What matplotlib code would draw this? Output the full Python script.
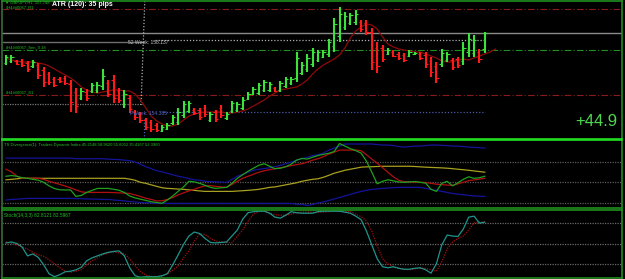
import numpy as np
import matplotlib
matplotlib.use("Agg")
import matplotlib.pyplot as plt

plt.rcParams['font.family'] = ['Liberation Sans', 'DejaVu Sans']

# ---- GBPJPY H1 bars ----
bar_high = [157.25, 157.25, 157.00, 157.05, 156.95, 157.00, 156.85, 156.65, 156.40, 156.15,
            156.15, 156.20, 156.00, 155.60, 155.60, 155.55, 155.85, 155.90, 156.55, 156.00,
            156.25, 155.60, 155.50, 155.25, 154.50, 154.40, 154.10, 154.00, 153.85, 153.75,
            153.85, 154.25, 154.60, 154.95, 154.95, 154.60, 154.60, 154.75, 154.40, 154.50,
            154.75, 154.40, 154.95, 154.90, 155.15, 155.40, 155.65, 155.85, 156.00, 155.90,
            155.65, 155.95, 156.15, 156.15, 157.40, 156.90, 157.30, 157.60, 157.50, 157.50,
            158.05, 159.10, 159.65, 159.40, 159.35, 159.50, 159.00, 159.00, 158.60, 157.90,
            157.75, 157.60, 157.50, 157.40, 157.35, 157.50, 157.40, 157.40, 157.40, 157.15,
            156.90, 157.55, 157.40, 157.10, 157.15, 157.90, 158.35, 158.25, 157.55, 158.40]
bar_low = [156.75, 156.85, 156.75, 156.65, 156.40, 156.60, 156.05, 155.65, 155.75, 155.65,
           155.85, 155.75, 154.40, 154.35, 155.00, 154.95, 155.35, 155.35, 155.50, 155.15,
           154.85, 154.85, 154.60, 154.35, 154.00, 153.85, 153.50, 153.40, 153.40, 153.40,
           153.50, 153.75, 153.75, 154.10, 154.35, 154.25, 154.00, 154.15, 153.90, 153.90,
           154.10, 154.00, 154.35, 154.40, 154.50, 155.00, 155.25, 155.25, 155.40, 155.40,
           155.40, 155.40, 155.60, 155.75, 155.90, 156.25, 156.40, 156.65, 156.90, 157.10,
           157.15, 157.40, 157.90, 158.50, 158.75, 158.75, 158.40, 158.25, 156.50, 156.35,
           156.90, 157.25, 157.15, 157.00, 156.90, 157.15, 157.25, 157.00, 156.60, 156.15,
           155.85, 156.65, 156.90, 156.50, 156.60, 156.75, 157.15, 157.15, 156.85, 157.35]
bar_open = [156.85, 156.95, 156.95, 156.95, 156.85, 156.70, 156.75, 156.50, 156.30, 156.05,
            156.05, 156.10, 155.80, 155.40, 155.10, 155.40, 155.45, 155.50, 155.70, 155.85,
            156.00, 155.45, 154.80, 155.10, 154.40, 154.30, 154.00, 153.90, 153.75, 153.45,
            153.55, 153.85, 153.90, 154.25, 154.45, 154.50, 154.50, 154.60, 154.00, 154.40,
            154.60, 154.10, 154.45, 154.50, 154.60, 155.05, 155.30, 155.35, 155.50, 155.50,
            155.60, 155.50, 155.70, 155.85, 156.10, 156.35, 156.55, 156.80, 157.00, 157.15,
            157.30, 157.70, 158.20, 158.65, 158.85, 158.90, 158.90, 158.85, 158.40, 157.60,
            157.60, 157.30, 157.40, 157.30, 157.25, 157.20, 157.30, 157.30, 157.25, 156.95,
            156.70, 156.80, 157.00, 157.00, 157.05, 156.95, 157.40, 157.35, 157.40, 157.55]
bar_close = [157.15, 157.15, 156.80, 156.75, 156.55, 156.90, 156.25, 155.90, 155.90, 155.75,
             155.95, 155.85, 154.90, 154.70, 155.45, 155.10, 155.75, 155.75, 156.20, 155.30,
             155.10, 155.00, 155.30, 154.55, 154.15, 154.00, 153.65, 153.55, 153.50, 153.65,
             153.75, 154.15, 154.40, 154.80, 154.85, 154.35, 154.15, 154.30, 154.30, 154.05,
             154.25, 154.30, 154.85, 154.80, 155.00, 155.30, 155.55, 155.75, 155.90, 155.80,
             155.45, 155.85, 156.05, 156.05, 157.10, 156.75, 157.10, 157.40, 157.40, 157.40,
             157.90, 158.80, 159.30, 159.20, 159.25, 159.30, 158.55, 158.40, 156.90, 156.70,
             157.05, 157.50, 157.20, 157.10, 157.00, 157.40, 157.35, 157.10, 156.80, 156.40,
             156.10, 157.35, 157.30, 156.65, 156.75, 157.60, 158.05, 158.00, 157.05, 158.35]

# shifted moving average (runs two bars past the last bar)
ma_line = [157.10, 157.00, 156.95, 156.90, 156.90, 156.90, 156.85, 156.80, 156.70, 156.55,
           156.40, 156.25, 156.10, 155.90, 155.65, 155.50, 155.40, 155.35, 155.40, 155.45,
           155.50, 155.50, 155.45, 155.45, 155.30, 155.00, 154.60, 154.20, 153.95, 153.80,
           153.70, 153.70, 153.80, 154.00, 154.20, 154.30, 154.35, 154.40, 154.40, 154.40,
           154.40, 154.35, 154.35, 154.40, 154.45, 154.55, 154.70, 154.85, 155.00, 155.20,
           155.35, 155.50, 155.55, 155.60, 155.65, 155.80, 156.00, 156.30, 156.55, 156.75,
           156.90, 157.05, 157.25, 157.60, 158.10, 158.45, 158.65, 158.80, 158.75, 158.55,
           158.15, 157.80, 157.65, 157.55, 157.50, 157.45, 157.40, 157.40, 157.30, 157.20,
           157.10, 156.95, 156.90, 156.90, 157.00, 157.05, 157.00, 157.10, 157.20, 157.30,
           157.40, 157.55]

# pivot / level lines
r1_level = 159.55
sen_level = 157.50
s1_level = 155.25
week52_left = 157.90
week52_right = 158.00
pweek_left = 154.80
pweek_right = 154.40
week_marker = 25.6

# ---- Traders Dynamic Index ----
tdi_upper = [71.1] * 13 + [70.6] * 6 + [
    70.2, 70.0, 69.8, 69.3, 68.9, 67.6, 65.8, 63.6, 61.9, 60.1,
    59.2, 57.9, 56.6, 55.3, 54.4, 53.2, 52.2, 51.8, 50.9, 50.6,
    50.4, 50.2, 50.0, 52.6, 55.3, 57.0, 58.8, 60.5, 61.4, 62.0,
    62.7, 63.6, 64.9, 66.2, 67.6, 69.3, 70.6, 71.9, 73.3, 74.1,
    75.5, 78.1, 79.9, 81.6, 83.4, 83.4, 83.4, 83.4, 83.4, 83.4,
    82.9, 82.5, 82.5, 82.0, 81.2, 80.7, 81.2, 81.6, 81.6, 82.0,
    82.5, 82.5, 82.2, 82.0, 81.6, 81.6, 81.2, 80.7, 80.5, 80.2, 79.9]
tdi_lower = [34.6, 35.1, 35.3, 35.7, 36.0, 36.0, 36.0, 36.0, 36.0, 36.0,
             36.0, 36.0, 36.0, 35.8, 35.7, 35.5, 35.4, 35.3, 35.1, 35.1,
             34.6, 34.2, 33.8, 33.3, 32.9, 32.4, 32.2, 32.0, 31.7] + [31.6] * 25 + [
             30.9, 30.7, 29.8, 30.7, 32.0, 32.9, 34.2, 35.5, 36.8, 38.1,
             39.5, 40.8, 42.1, 43.0, 43.9, 44.3, 44.7, 45.0, 45.3, 45.6,
             45.6, 45.6, 45.6, 45.6, 44.7, 43.9, 43.0, 42.1, 41.2, 40.3,
             39.7, 39.2, 38.6, 38.1, 37.9, 37.7]
tdi_base = [52.2, 52.6, 53.1] + [53.5] * 20 + [
    52.8, 51.8, 50.0, 49.1, 47.8, 46.5, 45.3, 44.7, 44.5, 44.1,
    43.9, 43.4, 43.0, 42.5, 42.1, 42.1, 42.1, 42.1, 42.1, 42.1,
    42.4, 42.7, 43.0, 43.4, 43.9, 44.7, 45.6, 46.0, 46.9, 47.8,
    48.7, 49.6, 50.9, 51.8, 52.6, 53.1, 54.4, 56.1, 57.9, 59.2,
    60.5, 61.4, 62.3, 63.2, 63.5, 63.6, 63.8, 64.0, 64.0, 64.0,
    64.0, 64.0, 64.0, 63.8, 63.5, 63.2, 63.0, 62.8, 62.6, 62.3,
    61.9, 61.4, 61.0, 60.5, 59.9, 59.4, 58.8]
tdi_signal = [61.4, 59.2, 55.3, 53.5, 53.5, 53.5, 53.5, 52.6, 50.9, 49.6,
              48.2, 46.8, 45.2, 43.4, 41.7, 41.2, 41.2, 41.2, 41.2, 41.2,
              41.0, 40.8, 40.6, 40.3, 39.0, 37.7, 36.1, 35.1, 33.8, 33.9,
              35.1, 36.8, 39.0, 40.8, 42.5, 43.9, 45.6, 46.9, 47.1, 46.5,
              46.0, 45.6, 48.2, 50.9, 53.5, 55.3, 57.0, 58.8, 60.1, 61.0,
              61.9, 62.7, 63.6, 64.5, 65.4, 66.2, 67.6, 69.3, 70.6, 72.4,
              74.6, 76.3, 78.1, 78.1, 78.1, 78.1, 77.6, 74.1, 70.2, 66.7,
              62.7, 58.8, 54.8, 51.8, 50.6, 50.4, 50.1, 50.0, 49.8, 49.1,
              48.4, 48.0, 47.6, 47.4, 48.7, 50.0, 51.5, 52.1, 52.8, 53.5]
tdi_price = [55.3, 55.9, 55.3, 54.0, 53.5, 52.6, 51.9, 50.0, 46.9, 44.6,
             43.5, 43.3, 43.4, 37.7, 38.6, 41.2, 43.0, 44.7, 44.7, 44.7,
             44.0, 43.1, 41.2, 38.1, 36.4, 35.3, 34.2, 33.1, 32.4, 31.7,
             34.6, 38.1, 42.1, 46.0, 50.9, 50.4, 49.1, 47.4, 45.6, 44.7,
             45.2, 45.6, 49.1, 53.5, 56.6, 59.7, 62.3, 64.9, 66.2, 64.0,
             61.9, 62.3, 63.6, 65.8, 69.3, 70.8, 70.3, 71.9, 73.3, 74.4,
             75.3, 76.8, 83.8, 81.6, 79.4, 77.7, 75.5, 68.4, 58.8, 48.7,
             50.9, 52.2, 51.3, 50.3, 50.0, 50.4, 50.7, 50.0, 49.3, 43.9,
             42.1, 49.1, 50.9, 46.9, 49.6, 52.6, 54.8, 53.5, 54.0, 55.3]
tdi_levels = [32, 50, 68]

# ---- Stochastic (14,3,3) ----
stoch_main = [51.2, 52.6, 50.4, 45.3, 32.3, 35.2, 30.1, 19.3, 6.2, 1.9,
              4.8, 9.1, 9.9, 12.0, 15.6, 25.1, 29.4, 32.3, 35.2, 37.4,
              38.8, 39.6, 32.3, 14.9, 3.3, 1.2, 1.9, 1.9, 1.9, 3.3,
              6.2, 19.3, 33.8, 49.0, 61.3, 67.1, 64.9, 57.7, 51.9, 51.2,
              51.9, 52.6, 61.3, 70.0, 85.9, 95.3, 96.8, 97.5, 97.5, 94.6,
              88.8, 87.4, 91.7, 96.8, 95.3, 94.6, 94.6, 94.6, 96.8, 97.5,
              97.5, 97.5, 97.5, 96.1, 94.6, 90.3, 85.2, 68.5, 48.3, 28.0,
              16.4, 14.9, 16.4, 14.2, 12.8, 12.8, 14.2, 14.9, 12.0, 7.0,
              20.7, 48.3, 62.7, 61.3, 60.6, 71.4, 88.8, 90.3, 80.1, 81.6]
stoch_signal = [52.6, 50.4, 48.3, 45.3, 42.4, 37.4, 33.8, 31.6, 26.5, 20.7,
                14.9, 9.9, 8.4, 9.9, 12.0, 19.3, 25.1, 29.4, 33.8, 36.7,
                38.1, 36.7, 35.5, 28.0, 17.8, 9.1, 4.1, 2.6, 1.9, 2.6,
                6.2, 11.3, 17.8, 29.4, 39.6, 54.0, 64.2, 63.5, 57.7, 54.0,
                52.6, 51.9, 51.2, 61.3, 70.0, 83.0, 93.2, 96.8, 97.5, 95.3,
                92.4, 91.7, 91.7, 93.2, 95.3, 96.1, 96.1, 96.1, 96.1, 96.1,
                96.8, 97.5, 97.5, 97.5, 96.8, 93.2, 89.5, 83.0, 68.5, 46.8,
                28.0, 20.7, 16.4, 14.2, 12.8, 12.0, 13.5, 14.2, 14.2, 12.0,
                9.9, 23.6, 42.4, 52.6, 57.7, 61.3, 70.0, 80.1, 81.6, 81.6]
stoch_levels = [20, 50, 80]

W, H = 625, 279
fig = plt.figure(figsize=(W / 100, H / 100), dpi=100, facecolor="black")

def px_axes(top, bottom):
    return fig.add_axes([2 / W, 1 - bottom / H, 620 / W, (bottom - top) / H])

ax = px_axes(1, 139)
ax2 = px_axes(140, 207.5)
ax3 = px_axes(209.5, 278)

xlim = (-0.74, 114.5)
dim_green = "#1f8f1f"
for a in (ax, ax2, ax3):
    a.set_facecolor("black")
    a.set_xlim(*xlim)
    a.set_xticks([])
    a.set_yticks([])
    for s in a.spines.values():
        s.set_color(dim_green)
        s.set_linewidth(1.2)
    a.spines["left"].set_color("#3a6a3a")
ax.spines["bottom"].set_color("#22e022")
ax2.spines["top"].set_color("#22e022")

# ---- main price panel ----
ax.set_ylim(153.05, 159.95)
idx = np.arange(len(bar_close))
o = np.array(bar_open)
c = np.array(bar_close)
colors = np.where(c >= o, "#3ae23a", "#ff1a1a")

lvl_kw = dict(linewidth=0.8)
ax.axhline(r1_level, color="#8b1a1a", linestyle=(0, (6, 2, 1, 2)), **lvl_kw)
ax.axhline(sen_level, color="#1f8f1f", linestyle=(0, (6, 2, 1, 2)), **lvl_kw)
ax.axhline(s1_level, color="#8b1a1a", linestyle=(0, (6, 2, 1, 2)), **lvl_kw)
ax.axhline(bar_close[-1], color="#8a8a8a", linewidth=1.0)
ax.hlines(week52_left, xlim[0], week_marker, color="#6e6e6e", linewidth=1.0)
ax.hlines(week52_right, week_marker + 2.1, idx[-1], color="#b0b0b0",
          linestyle=(0, (1, 1.5)), linewidth=0.9)
ax.hlines(pweek_left, xlim[0], week_marker, color="#7a7a7a",
          linestyle=(0, (1, 1)), linewidth=0.9)
ax.hlines(pweek_right, week_marker + 3.6, idx[-1], color="#4a5aa8",
          linestyle=(0, (1, 1.5)), linewidth=0.9)
ax.plot([week_marker + 0.2, week_marker - 0.5], [159.95, pweek_left - 0.05],
        color="#b0b0b0", linestyle=(0, (1, 1.5)), linewidth=0.9)
ax.vlines(week_marker, 153.05, pweek_right - 0.3, color="#4a5aa8",
          linestyle=(0, (1, 1.5)), linewidth=0.9)

ax.plot(np.arange(len(ma_line)), ma_line, color="#8e0a0a", linewidth=0.9)
ax.vlines(idx, bar_low, bar_high, colors=colors, linewidth=1.5)
ax.hlines(bar_open, idx - 0.45, idx, colors=colors, linewidth=0.8)
ax.hlines(bar_close, idx, idx + 0.45, colors=colors, linewidth=0.8)

ytr = ax.get_yaxis_transform()
small_green = dict(color="#22c022", fontsize=3.0)
ax.text(0.005, 1.0, "\u25bc GBPJPY,H1  157.748", transform=ax.transAxes,
        va="top", **small_green)
ax.text(0.006, r1_level + 0.01, "#H4##0067_R1", transform=ytr, va="baseline", **small_green)
ax.text(0.006, sen_level + 0.03, "#H4##0067_Sen_0.18", transform=ytr, va="bottom", **small_green)
ax.text(0.006, s1_level + 0.05, "#H4##0067_S1", transform=ytr, va="bottom", **small_green)
ax.text(0.081, 0.972, "ATR (120): 35 pips", transform=ax.transAxes, va="center",
        color="white", fontsize=5, fontweight="bold")
ax.text(week_marker - 3.0, week52_left, "52 Week: 158.137", va="center",
        color="#c8c8c8", fontsize=3.6)
ax.text(week_marker - 2.6, 154.35, "PWeek: 154.385", va="center",
        color="#5868c8", fontsize=3.6)
ax.text(0.992, 0.13, "+44.9", transform=ax.transAxes, ha="right", va="center",
        color="#4fd64f", fontsize=12)

# ---- TDI panel ----
ax2.set_ylim(28.05, 86.9)
for lv in tdi_levels:
    ax2.axhline(lv, color="#5a5a5a", linestyle=(0, (1, 1)), linewidth=0.9)
ax2.plot(idx, tdi_upper, color="#14149a", linewidth=0.9)
ax2.plot(idx, tdi_lower, color="#14149a", linewidth=0.9)
ax2.plot(idx, tdi_base, color="#a8a020", linewidth=0.9)
ax2.plot(idx, tdi_signal, color="#b01010", linewidth=0.9)
ax2.plot(idx, tdi_price, color="#1fa01f", linewidth=0.9)
ax2.text(0.004, 0.95, "TS Divergence(1): Traders Dynamic Index 45.2148 58.9620 55.6052 35.4167 52.3960",
         transform=ax2.transAxes, va="top", color="#22c022", fontsize=3.0)

# ---- Stochastic panel ----
ax3.set_ylim(0, 100)
for lv in stoch_levels:
    ax3.axhline(lv, color="#6a6a6a", linestyle=(0, (1, 1)), linewidth=0.9)
ax3.plot(idx, stoch_signal, color="#a01010", linestyle=(0, (1, 1)), linewidth=0.9)
ax3.plot(idx, stoch_main, color="#1f948c", linewidth=0.9)
ax3.text(0.004, 0.95, "Stoch(14,3,3) 82.8121 82.5967",
         transform=ax3.transAxes, va="top", color="#22c022", fontsize=3.4)

fig.savefig("out.png", dpi=100, facecolor="black")
